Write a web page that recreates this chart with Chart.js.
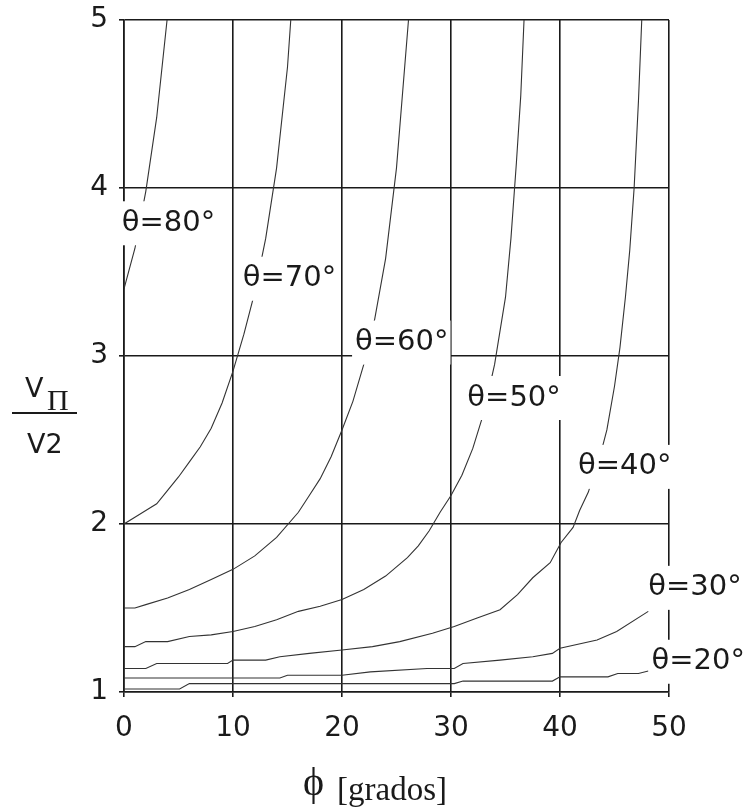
<!DOCTYPE html>
<html>
<head>
<meta charset="utf-8">
<script src="https://cdn.jsdelivr.net/npm/chart.js@4"></script>
<style>
  html, body { margin: 0; padding: 0; background: #fff; }
  canvas { display: block; }
</style>
</head>
<body>
<canvas id="chart" width="743" height="811"></canvas>
<script>
// phi in degrees (x), Vpi/V2 ratio (y), one pair of arrays per theta curve
const phi80 = [0, 1, 2, 3, 3.95];
const v80 = [3.40, 3.64, 3.98, 4.42, 5.0];

const phi70 = [0, 1, 2, 3, 4, 5, 6, 7, 8, 9, 10, 11, 12, 13, 14, 15, 15.3];
const v70 = [2.00, 2.04, 2.08, 2.12, 2.20, 2.28, 2.37, 2.46, 2.57, 2.72, 2.91, 3.13, 3.38, 3.70, 4.12, 4.72, 5.0];

const phi60 = [0, 1, 2, 4, 6, 8, 10, 12, 14, 16, 17, 18, 19, 20, 21, 22, 23, 24, 25, 26.1];
const v60 = [1.50, 1.50, 1.52, 1.56, 1.61, 1.67, 1.73, 1.81, 1.92, 2.07, 2.17, 2.27, 2.40, 2.56, 2.73, 2.95, 3.22, 3.58, 4.12, 5.0];

const phi50 = [0, 1, 2, 4, 6, 8, 10, 12, 14, 16, 18, 20, 22, 24, 26, 27, 28, 29, 30, 31, 32, 33, 34, 35, 35.5, 36, 36.4, 36.7];
const v50 = [1.27, 1.27, 1.30, 1.30, 1.33, 1.34, 1.36, 1.39, 1.43, 1.48, 1.51, 1.55, 1.61, 1.69, 1.80, 1.87, 1.96, 2.07, 2.17, 2.29, 2.45, 2.66, 2.95, 3.35, 3.70, 4.15, 4.55, 5.0];

const phi40 = [0, 2, 3, 9.5, 10, 13, 14.3, 17, 20, 22.8, 25.3, 28.3, 30.3, 32.4, 34.5, 36.1, 37.5, 39.1, 40.1, 41.2, 41.8, 42.6, 43.9, 44.3, 45, 45.5, 46, 46.4, 46.8, 47.2, 47.5];
const v40 = [1.14, 1.14, 1.17, 1.17, 1.19, 1.19, 1.21, 1.23, 1.25, 1.27, 1.30, 1.35, 1.39, 1.44, 1.49, 1.58, 1.68, 1.77, 1.89, 1.98, 2.08, 2.19, 2.46, 2.56, 2.82, 3.05, 3.35, 3.63, 4.0, 4.52, 5.0];

const phi30 = [0, 14.3, 15, 20, 22.6, 27.8, 30.3, 31.1, 34.5, 37.5, 39.3, 40, 43.4, 45.2, 48.1];
const v30 = [1.083, 1.083, 1.10, 1.10, 1.12, 1.14, 1.14, 1.17, 1.19, 1.21, 1.23, 1.26, 1.31, 1.36, 1.48];

const phi20 = [0, 5.1, 6, 30.3, 31.1, 39.3, 40, 44.4, 45.3, 47.2, 48.1];
const v20 = [1.018, 1.018, 1.05, 1.05, 1.065, 1.065, 1.09, 1.09, 1.11, 1.11, 1.125];

const xTicks = [0, 10, 20, 30, 40, 50];
const yTicks = [1, 2, 3, 4, 5];

const curveLabels = ["θ=80°", "θ=70°", "θ=60°", "θ=50°", "θ=40°", "θ=30°", "θ=20°"];
// where each curve label sits (left edge, vertical middle), in data units
const labelPhi = [-0.2, 10.9, 21.2, 31.5, 41.65, 48.1, 48.4];
const labelV = [3.79, 3.46, 3.08, 2.75, 2.34, 1.62, 1.18];

const W = 743, H = 811;
const FONT = "DejaVu Sans";
const SERIF = "'Liberation Serif', 'DejaVu Serif', serif";
const INK = "#1a1a1a";

function pairs(xs, ys) {
  return xs.map((x, i) => ({ x: x, y: ys[i] }));
}

const series = [
  pairs(phi80, v80), pairs(phi70, v70), pairs(phi60, v60), pairs(phi50, v50),
  pairs(phi40, v40), pairs(phi30, v30), pairs(phi20, v20),
];

const labelsPlugin = {
  id: "curveLabels",
  afterDatasetsDraw(chart) {
    const ctx = chart.ctx;
    const xs = chart.scales.x, ys = chart.scales.y;
    ctx.save();
    ctx.font = "29px '" + FONT + "'";
    ctx.textBaseline = "middle";
    ctx.textAlign = "left";
    curveLabels.forEach((txt, i) => {
      const left = xs.getPixelForValue(labelPhi[i]);
      const mid = ys.getPixelForValue(labelV[i]);
      const w = ctx.measureText(txt).width;
      ctx.fillStyle = "#fff";
      ctx.fillRect(left - 3, mid - 22, w + 5, 44);
      ctx.fillStyle = INK;
      ctx.fillText(txt, left, mid);
    });

    // y axis title: Vπ over V2
    ctx.textBaseline = "alphabetic";
    ctx.fillStyle = INK;
    ctx.font = "27px '" + FONT + "'";
    ctx.fillText("V", 25, 397);
    ctx.fillText("V2", 27, 453);
    ctx.font = "30px " + SERIF;
    ctx.fillText("Π", 47, 410);
    ctx.strokeStyle = INK;
    ctx.lineWidth = 2;
    ctx.beginPath();
    ctx.moveTo(12, 413);
    ctx.lineTo(77, 413);
    ctx.stroke();

    // x axis title
    ctx.font = "40px " + SERIF;
    ctx.fillText("ϕ", 303, 795);
    ctx.font = "33px " + SERIF;
    ctx.fillText("[grados]", 337, 800);
    ctx.restore();
  },
};

new Chart(document.getElementById("chart"), {
  type: "line",
  data: {
    datasets: series.map((pts) => ({
      data: pts,
      borderColor: "#333",
      borderWidth: 1.1,
      pointRadius: 0,
      tension: 0,
      fill: false,
    })),
  },
  options: {
    responsive: false,
    animation: false,
    events: [],
    layout: { padding: { top: 20, right: 74, left: 0, bottom: 0 } },
    plugins: { legend: { display: false }, tooltip: { enabled: false } },
    scales: {
      x: {
        type: "linear",
        min: 0,
        max: 50,
        afterBuildTicks: (s) => { s.ticks = xTicks.map((v) => ({ value: v })); },
        afterFit: (s) => {
          s.height = H - 692;
          s.paddingLeft = 0; s.paddingRight = 0;
        },
        ticks: { font: { family: FONT, size: 28 }, color: INK, padding: 15, maxRotation: 0 },
        grid: { color: INK, lineWidth: 1.6, tickLength: 5 },
        border: { color: INK, width: 1.6 },
      },
      y: {
        type: "linear",
        min: 1,
        max: 5,
        afterBuildTicks: (s) => { s.ticks = yTicks.map((v) => ({ value: v })); },
        afterFit: (s) => {
          s.width = 124;
          s.paddingTop = 0; s.paddingBottom = 0;
        },
        ticks: { font: { family: FONT, size: 28 }, color: INK, padding: 11 },
        grid: { color: INK, lineWidth: 1.6, tickLength: 5 },
        border: { color: INK, width: 1.6 },
      },
    },
  },
  plugins: [labelsPlugin],
});
</script>
</body>
</html>
